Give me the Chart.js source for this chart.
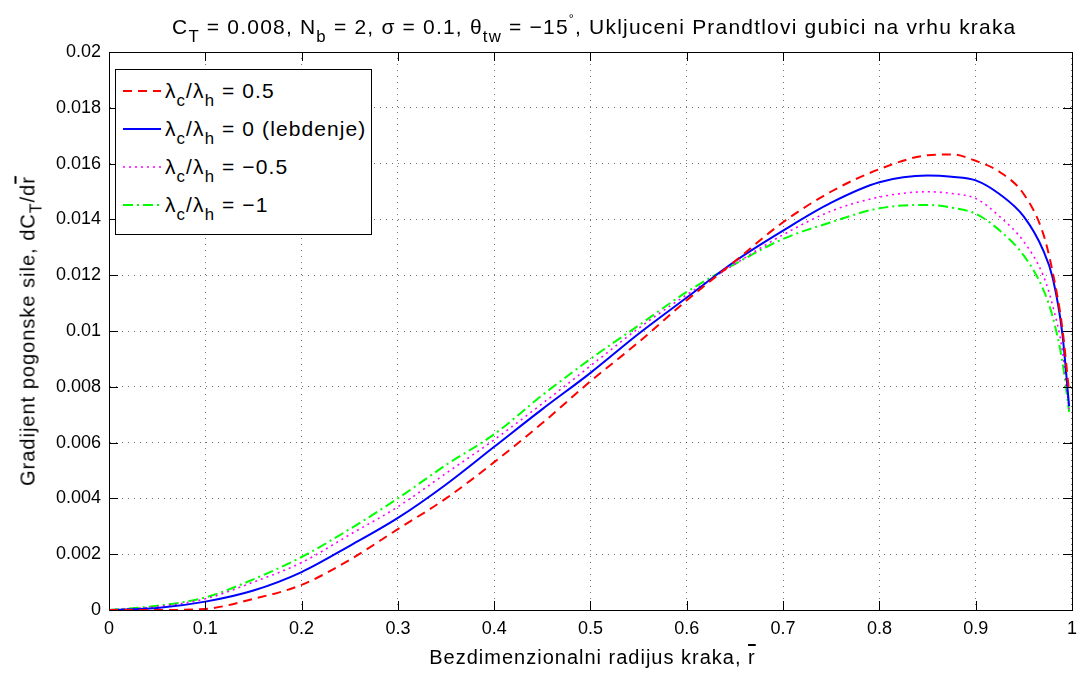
<!DOCTYPE html>
<html>
<head>
<meta charset="utf-8">
<script src="https://cdn.jsdelivr.net/npm/chart.js@4/dist/chart.umd.min.js"></script>
<style>
  body { margin: 0; background: #fff; font-family: "Liberation Sans", Arial, sans-serif; color: #000; }
  #wrap { position: relative; width: 1085px; height: 673px; }
  #title { position: absolute; left: 172px; top: 15px; font-size: 21px; letter-spacing: 1.2px; white-space: nowrap; }
  sub { font-size: 0.8em; vertical-align: -0.45em; line-height: 0; }
  sup { font-size: 0.6em; vertical-align: 0.9em; line-height: 0; }
  .bar { text-decoration: overline; }
  #xlab { position: absolute; left: 109px; top: 646px; width: 967px; text-align: center; font-size: 20px; letter-spacing: 1px; white-space: nowrap; }
  #ylab { position: absolute; left: 28px; top: 331px; transform: translate(-50%, -50%) rotate(-90deg); font-size: 20px; letter-spacing: 1px; white-space: nowrap; }
  #legend { position: absolute; left: 115px; top: 69px; width: 257px; height: 166px; border: 1px solid #000; background: #fff; box-sizing: border-box; }
  .row { position: absolute; left: 0; height: 37px; display: flex; align-items: center; font-size: 21px; letter-spacing: 1.1px; white-space: nowrap; }
  .row svg { margin-left: 7px; margin-right: 4px; }
</style>
</head>
<body>
<div id="wrap">
  <canvas id="grad" width="1085" height="673"></canvas>
  <div id="title">C<sub>T</sub> = 0.008, N<sub>b</sub> = 2, σ = 0.1, θ<sub>tw</sub> = −15<sup>°</sup>, Ukljuceni Prandtlovi gubici na vrhu kraka</div>
  <div id="xlab">Bezdimenzionalni radijus kraka, <span class="bar">r</span></div>
  <div id="ylab">Gradijent pogonske sile, dC<sub>T</sub>/d<span class="bar">r</span></div>
  <div id="legend"></div>
</div>
<script>
// bezdimenzionalni radijus
const rBar = [0, 0.05, 0.1, 0.15, 0.2, 0.25, 0.3, 0.35, 0.4, 0.45, 0.5, 0.55, 0.6, 0.65, 0.7, 0.75, 0.8, 0.85, 0.875, 0.9, 0.925, 0.95, 0.97, 0.98, 0.99, 0.997]

// dCT/dr za razne lambda_c/lambda_h
const penjanje05 = [0, 0, 0.00004, 0.0004, 0.0009, 0.0018, 0.0029, 0.0040, 0.0053, 0.0067, 0.0082, 0.0096, 0.0111, 0.0125, 0.0139, 0.0150, 0.0158, 0.0163, 0.01633, 0.0161, 0.0157, 0.0149, 0.0135, 0.0121, 0.0101, 0.0078]
const lebdenje = [0, 0.00007, 0.0003, 0.0007, 0.00136, 0.0023, 0.0033, 0.0045, 0.00585, 0.0072, 0.0085, 0.0099, 0.0112, 0.0125, 0.0136, 0.0146, 0.01533, 0.01557, 0.01553, 0.0154, 0.0149, 0.0141, 0.0129, 0.0119, 0.0099, 0.0073]
const spustanje05 = [0, 0.00012, 0.0004, 0.0010, 0.0017, 0.0027, 0.0037, 0.0049, 0.0061, 0.0074, 0.00875, 0.0101, 0.0113, 0.0124, 0.01345, 0.0143, 0.0148, 0.01499, 0.01493, 0.01475, 0.0141, 0.0132, 0.0120, 0.0109, 0.0093, 0.0072]
const spustanje1 = [0, 0.00015, 0.00045, 0.0011, 0.0019, 0.0029, 0.0040, 0.0052, 0.0063, 0.0077, 0.0090, 0.0102, 0.0114, 0.0124, 0.0133, 0.0139, 0.0144, 0.01452, 0.01442, 0.0142, 0.0136, 0.0127, 0.0115, 0.0105, 0.0089, 0.0071]

const odnosi = ['0.5', '0 (lebdenje)', '−0.5', '−1']
const xTicks = [0, 0.1, 0.2, 0.3, 0.4, 0.5, 0.6, 0.7, 0.8, 0.9, 1]
const yTicks = [0, 0.002, 0.004, 0.006, 0.008, 0.01, 0.012, 0.014, 0.016, 0.018, 0.02]

const serije = [penjanje05, lebdenje, spustanje05, spustanje1]
const boje = ['#ff0000', '#0000ff', '#ff00ff', '#00ff00']
const crte = [[9, 6], [], [2, 4], [10, 4, 2, 4]]

const datasets = serije.map((s, i) => ({
  label: 'λc/λh = ' + odnosi[i],
  data: s.map((v, k) => ({ x: rBar[k], y: v })),
  borderColor: boje[i],
  borderDash: crte[i],
  borderWidth: i == 2 ? 1.6 : 2,
  pointRadius: 0,
  fill: false,
  cubicInterpolationMode: 'monotone'
}))

const font = { family: '"Liberation Sans", Arial, sans-serif', size: 18 }

// unutrasnji tickovi i okvir kao u matlabu
const okvir = {
  id: 'okvir',
  afterDraw(c) {
    const { ctx, chartArea: a, scales: { x, y } } = c
    ctx.save()
    ctx.strokeStyle = '#000'
    ctx.lineWidth = 1
    ctx.beginPath()
    xTicks.forEach(t => {
      const px = Math.round(x.getPixelForValue(t)) + 0.5
      ctx.moveTo(px, a.bottom); ctx.lineTo(px, a.bottom - 9)
      ctx.moveTo(px, a.top); ctx.lineTo(px, a.top + 9)
    })
    yTicks.forEach(t => {
      const py = Math.round(y.getPixelForValue(t)) + 0.5
      ctx.moveTo(a.left, py); ctx.lineTo(a.left + 9, py)
      ctx.moveTo(a.right, py); ctx.lineTo(a.right - 9, py)
    })
    ctx.stroke()
    ctx.strokeRect(Math.round(a.left) + 0.5, Math.round(a.top) + 0.5, Math.round(a.width), Math.round(a.height))
    ctx.restore()
  }
}

const gridOpts = { color: 'rgba(0,0,0,0.55)', drawTicks: false, lineWidth: 1 }
const borderOpts = { display: true, color: '#000', width: 1, dash: [1, 5] }

const chart = new Chart(document.getElementById('grad'), {
  type: 'line',
  data: { datasets },
  plugins: [okvir],
  options: {
    responsive: false,
    animation: false,
    layout: { padding: { top: 52, right: 9, left: 0, bottom: 0 } },
    plugins: { legend: { display: false }, tooltip: { enabled: false } },
    scales: {
      x: {
        type: 'linear', min: 0, max: 1,
        afterBuildTicks: s => { s.ticks = xTicks.map(v => ({ value: v })) },
        ticks: { font, color: '#000', padding: 8, maxRotation: 0, callback: v => String(+v.toFixed(2)) },
        grid: gridOpts, border: borderOpts,
        afterFit: s => { s.height = 63 }
      },
      y: {
        type: 'linear', min: 0, max: 0.02,
        afterBuildTicks: s => { s.ticks = yTicks.map(v => ({ value: v })) },
        ticks: { font, color: '#000', padding: 8, callback: v => String(+v.toFixed(3)) },
        grid: gridOpts, border: borderOpts,
        afterFit: s => { s.width = 109 }
      }
    }
  }
})

// legenda sa indeksima
const leg = document.getElementById('legend')
chart.data.datasets.forEach((ds, i) => {
  const row = document.createElement('div')
  row.className = 'row'
  row.style.top = (2 + i * 38) + 'px'
  const dash = ds.borderDash.length ? ds.borderDash.join(' ') : 'none'
  row.innerHTML = '<svg width="38" height="10"><line x1="0" y1="5" x2="38" y2="5" stroke="' + ds.borderColor +
    '" stroke-width="' + ds.borderWidth + '" stroke-dasharray="' + dash + '"/></svg>' +
    '<span>λ<sub>c</sub>/λ<sub>h</sub> = ' + odnosi[i] + '</span>'
  leg.appendChild(row)
})
</script>
</body>
</html>
